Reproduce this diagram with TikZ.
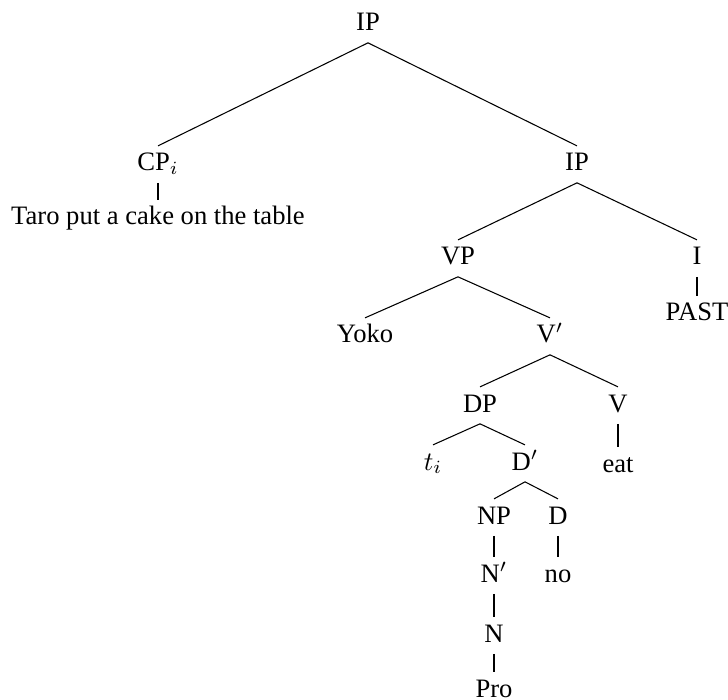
\documentclass[tikz,border=0pt]{standalone}
\usepackage{fontspec}
\setmainfont{Liberation Serif}
\usepackage{amsmath}

\begin{document}
\begin{tikzpicture}[x=0.376pt, y=-0.376pt,
    lbl/.style={anchor=base, inner xsep=1pt, inner ysep=2.25pt, text height=7pt, text depth=2pt},
    branch/.style={line width=0.4pt},
    unary/.style={line width=1.1pt}]
\useasboundingbox (0,0) rectangle (728,700);
    \node[lbl] (1) at (368,31) {IP};
    \node[lbl] (2) at (158,171) {CP$_i$};
    \node[lbl] (3) at (577,171) {IP};
    \node[lbl] (4) at (158,225) {Taro put a cake on the table};
    \node[lbl] (5) at (458,265) {VP};
    \node[lbl] (6) at (697,265) {I};
    \node[lbl] (7) at (697,321) {PAST};
    \node[lbl] (8) at (365,343) {Yoko};
    \node[lbl] (9) at (550,343) {V$'$};
    \node[lbl] (10) at (480,412) {DP};
    \node[lbl] (11) at (618,412) {V};
    \node[lbl] (12) at (618,472) {eat};
    \node[lbl] (13) at (433,470) {$t_i$};
    \node[lbl] (14) at (525,470) {D$'$};
    \node[lbl] (15) at (494,524) {NP};
    \node[lbl] (16) at (558,524) {D};
    \node[lbl] (17) at (494,582) {N$'$};
    \node[lbl] (18) at (558,582) {no};
    \node[lbl] (19) at (494,642) {N};
    \node[lbl] (20) at (494,697) {Pro};
\begin{scope}[branch]
    \draw (1.south) -- (2.north);
    \draw (1.south) -- (3.north);
    \draw (3.south) -- (5.north);
    \draw (3.south) -- (6.north);
    \draw (5.south) -- (8.north);
    \draw (5.south) -- (9.north);
    \draw (9.south) -- (10.north);
    \draw (9.south) -- (11.north);
    \draw (10.south) -- (13.north);
    \draw (10.south) -- (14.north);
    \draw (14.south) -- (15.north);
    \draw (14.south) -- (16.north);
\end{scope}
\foreach \a/\b in {2/4, 6/7, 11/12, 15/17, 16/18, 17/19, 19/20}
    \draw[unary] (\a.south) -- (\b.north);
\end{tikzpicture}
\end{document}
